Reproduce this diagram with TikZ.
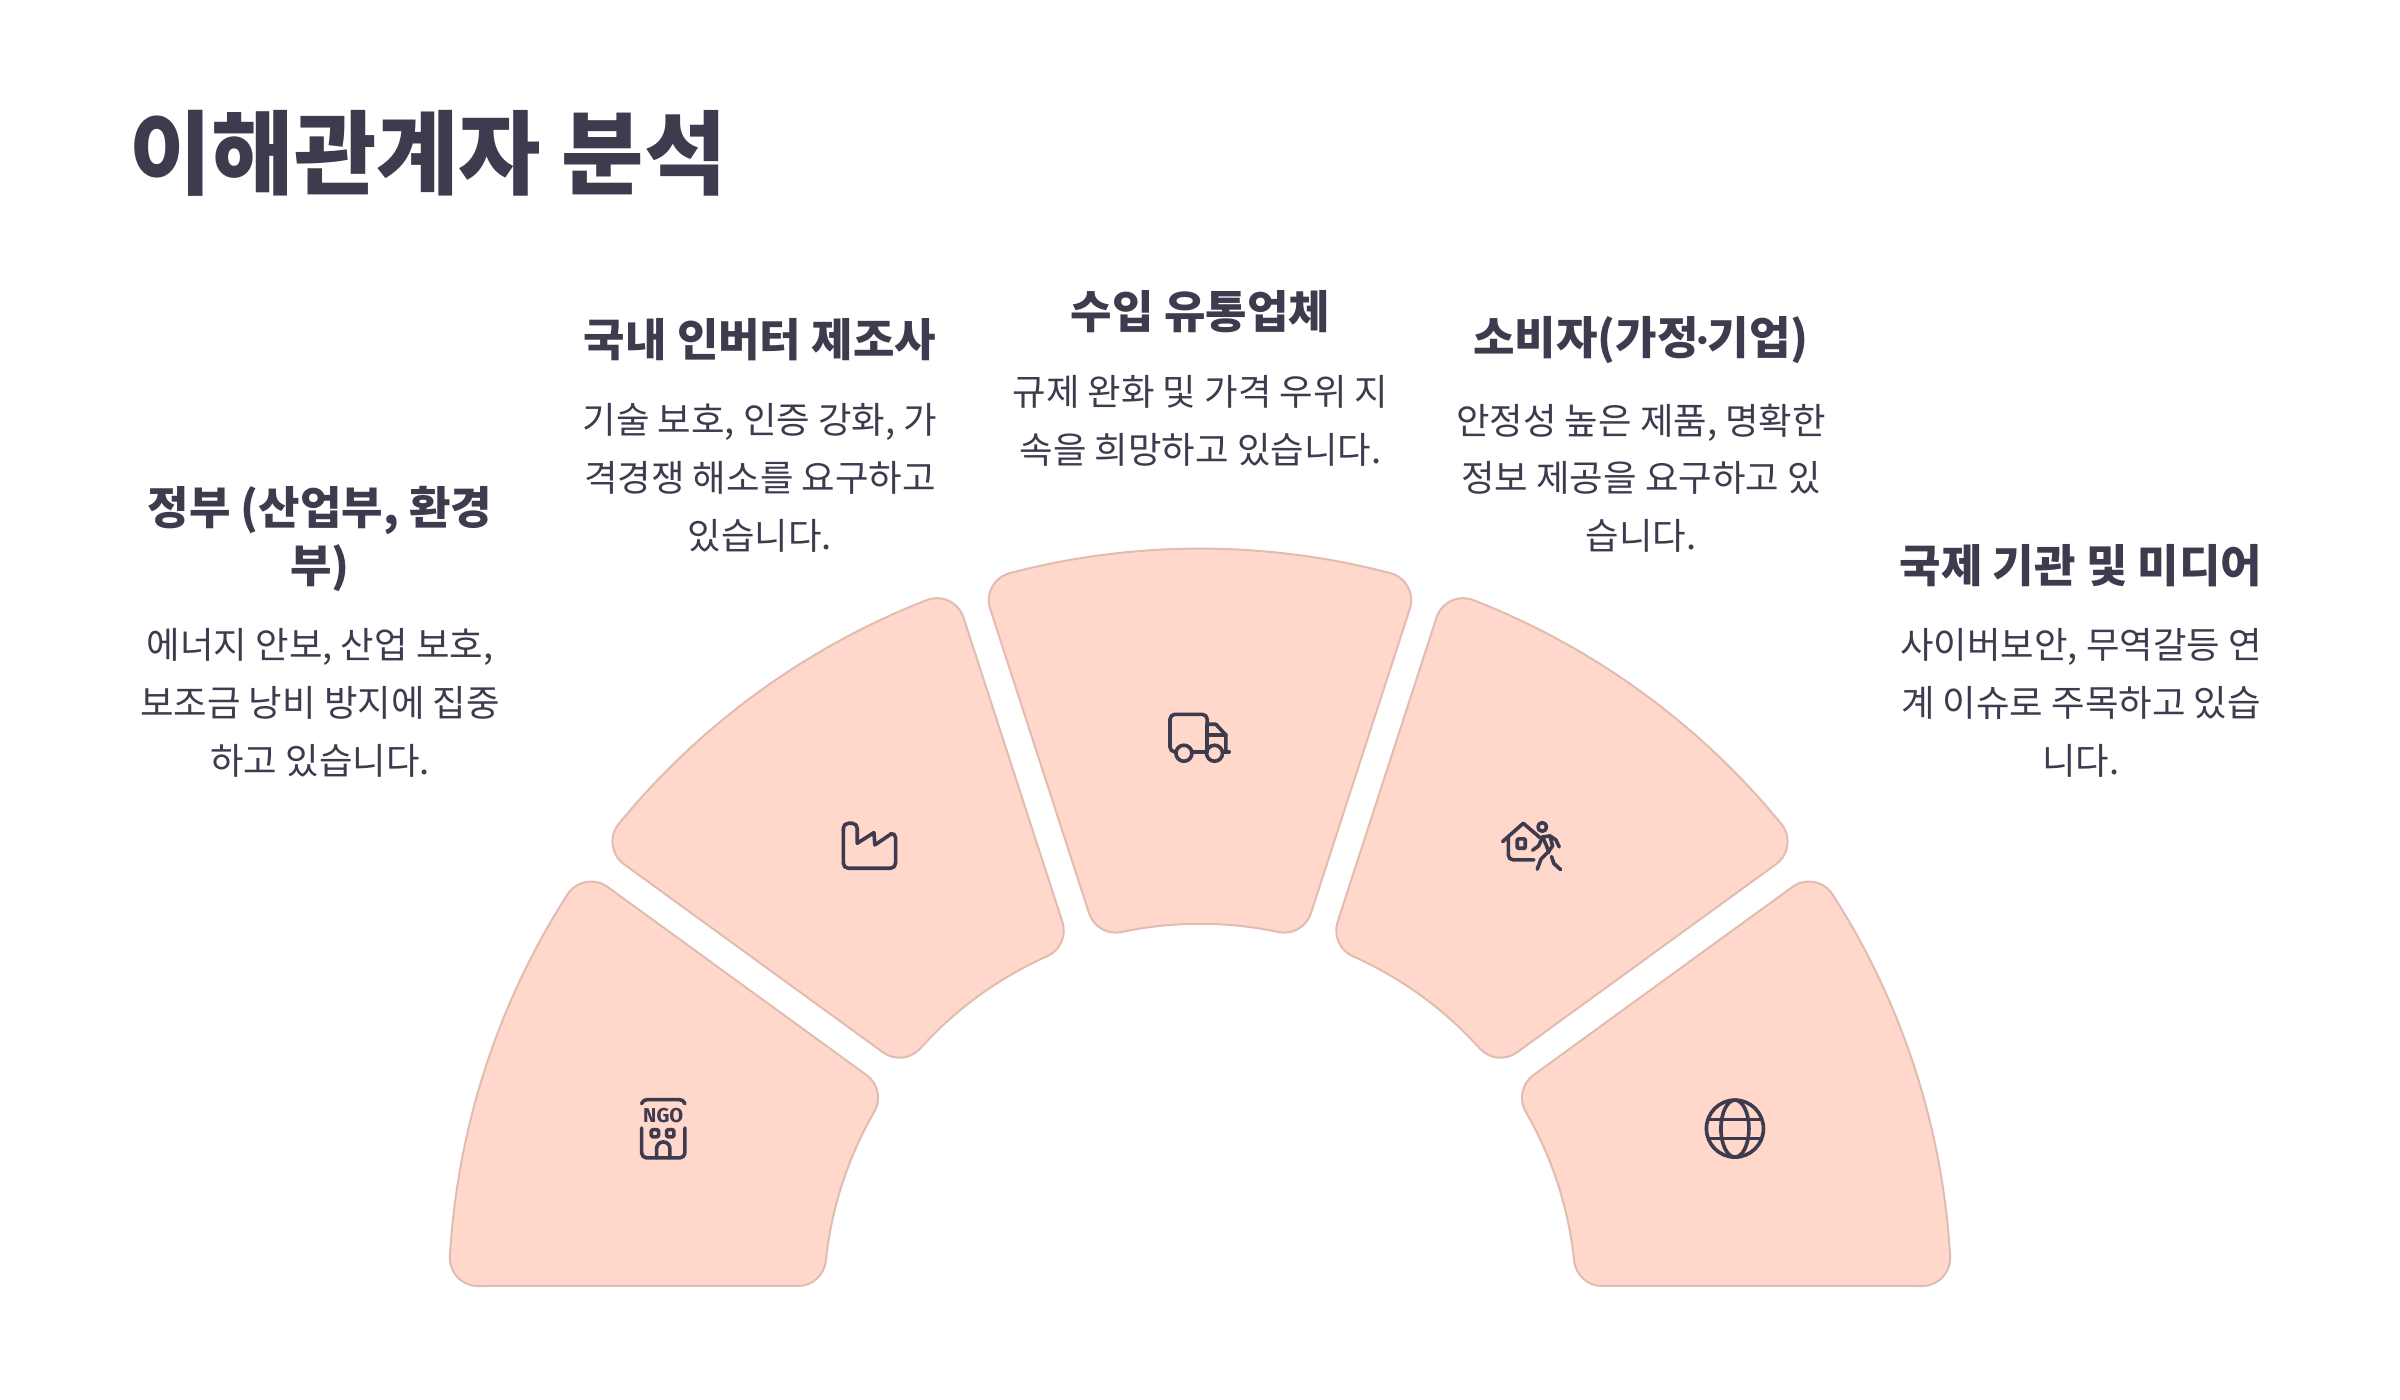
\documentclass[tikz,border=0pt]{standalone}
\usepackage{fontspec}
\setmainfont{Noto Sans CJK KR}
\newfontfamily\iconfont{Fira Sans}[BoldFont={Fira Sans Bold}]
\usetikzlibrary{calc}
\definecolor{petal}{HTML}{FFD7CB}
\definecolor{petaledge}{HTML}{E2BCB0}
\definecolor{ink}{HTML}{3E3B4E}
\newcommand{\petalpath}{%
 (104.67:7.51cm)
 arc[start angle=104.67,end angle=75.33,radius=7.51cm]
 arc[start angle=75.33,end angle=-18,radius=.28cm]
 -- ($(77.97:4.04cm)+(-18:.28cm)$)
 arc[start angle=-18,end angle=-102.03,radius=.28cm]
 arc[start angle=77.97,end angle=102.03,radius=3.76cm]
 arc[start angle=282.03,end angle=198,radius=.28cm]
 -- ($(104.67:7.23cm)+(198:.28cm)$)
 arc[start angle=198,end angle=104.67,radius=.28cm]
 -- cycle}
\tikzset{
 x=0.01cm,y=-0.01cm,
 petalshape/.style={fill=petal,draw=petaledge,line width=0.02cm,line join=round},
 titletext/.style={inner sep=0,anchor=west,text=ink,font=\fontsize{26pt}{30pt}\selectfont\bfseries},
 headtext/.style={inner sep=0,align=center,text=ink,font=\fontsize{12.82pt}{16.4pt}\selectfont\bfseries},
 bodytext/.style={inner sep=0,align=center,text=ink,font=\fontsize{10.36pt}{16.4pt}\selectfont},
 iconline/.style={draw=ink,line width=0.036cm,line cap=round,line join=round},
}
\begin{document}
\begin{tikzpicture}
\useasboundingbox (0,0) rectangle (2400,1400);
\foreach \a in {72,36,0,-36,-72}{
 \begin{scope}[shift={(1200,1300)},rotate=\a]
  \path[petalshape] \petalpath;
 \end{scope}
}
\node[titletext,xscale=.98] (title) at (128.5,153) {이해관계자 분석};

\node[headtext] (h1) at (320,539) {정부 (산업부, 환경\\부)};
\node[bodytext] (b1) at (320,703) {에너지 안보, 산업 보호,\\보조금 낭비 방지에 집중\\하고 있습니다.};
\node[headtext] (h2) at (760,340) {국내 인버터 제조사};
\node[bodytext] (b2) at (760,478) {기술 보호, 인증 강화, 가\\격경쟁 해소를 요구하고\\있습니다.};
\node[headtext] (h3) at (1200.5,312) {수입 유통업체};
\node[bodytext] (b3) at (1200.5,421) {규제 완화 및 가격 우위 지\\속을 희망하고 있습니다.};
\node[headtext] (h4) at (1641,340) {소비자(가정{\iconfont\bfseries\hspace{-.02em}·\hspace{-.02em}}기업)};
\node[bodytext] (b4) at (1641,478) {안정성 높은 제품, 명확한\\정보 제공을 요구하고 있\\습니다.};
\node[headtext] (h5) at (2081,566) {국제 기관 및 미디어};
\node[bodytext] (b5) at (2081,703) {사이버보안, 무역갈등 연\\계 이슈로 주목하고 있습\\니다.};

% NGO building
\begin{scope}[shift={(610,1082)},x=0.00333cm,y=-0.00333cm]
 \draw[iconline] (95,65) .. controls (100,56) and (104,53) .. (112,53) -- (208,53) .. controls (216,53) and (220,56) .. (225,65);
 \draw[iconline,rounded corners=.05cm] (95,138) -- (95,228) -- (225,228) -- (225,138);
 \draw[iconline,rounded corners=.015cm] (124,143) rectangle (146,165);
 \draw[iconline,rounded corners=.015cm] (170,143) rectangle (192,165);
 \draw[iconline] (140,228) -- (140,200) arc[start angle=180,end angle=0,radius=.0667cm] -- (180,228);
 \node[inner sep=0,text=ink,font=\iconfont\fontsize{5.7pt}{6pt}\selectfont\bfseries] (ngo) at (160,101) {NGO};
\end{scope}
% factory
\begin{scope}[shift={(820,796)},x=0.00333cm,y=-0.00333cm]
 \draw[iconline,rounded corners=.05cm] (70,105) -- (70,82) -- (112,82) -- (112,110);
 \draw[iconline] (112,110) -- (112,142) -- (162,110) -- (165,147) -- (215,113);
 \draw[iconline,rounded corners=.05cm] (215,113) -- (227,110) -- (227,217) -- (70,217) -- (70,100);
\end{scope}
% truck
\begin{scope}[shift={(1130,691)},x=0.00333cm,y=-0.00333cm]
 \draw[iconline,rounded corners=.05cm] (135,183) -- (120,183) -- (120,70) -- (232,70) -- (232,100);
 \draw[iconline] (232,100) -- (232,183) (232,132) -- (288,132);
 \draw[iconline] (232,100) -- (258,100) -- (288,132) -- (288,183);
 \draw[iconline] (188,183) -- (230,183) (280,183) -- (298,183);
 \draw[iconline] (162,187) circle[radius=.08cm];
 \draw[iconline] (254,187) circle[radius=.08cm];
\end{scope}
% home and walker
\begin{scope}[shift={(1480,791)},x=0.00333cm,y=-0.00333cm]
 \draw[iconline] (68,152) -- (130,97) -- (180,140);
 \draw[iconline,rounded corners=.05cm] (85,140) -- (85,207) -- (162,207);
 \draw[iconline,rounded corners=.01cm] (112,144) rectangle (136,172);
 \draw[iconline] (187,108) circle[radius=.043cm];
 \draw[iconline] (158,178) -- (176,165) -- (188,138) -- (210,135) -- (228,147) -- (238,168);
 \draw[iconline] (188,138) -- (200,165) -- (207,185);
 \draw[iconline] (210,135) -- (218,165) -- (205,183) -- (183,205) -- (172,235);
 \draw[iconline] (215,197) -- (222,218) -- (242,236);
\end{scope}
% globe
\begin{scope}[shift={(1690,1082)},x=0.00333cm,y=-0.00333cm]
 \draw[iconline] (135,140) circle[radius=.285cm];
 \draw[iconline] (135,140) ellipse[x radius=.14cm,y radius=.285cm];
 \draw[iconline] (57,113) -- (213,113) (57,170) -- (213,170);
\end{scope}
\end{tikzpicture}
\end{document}
